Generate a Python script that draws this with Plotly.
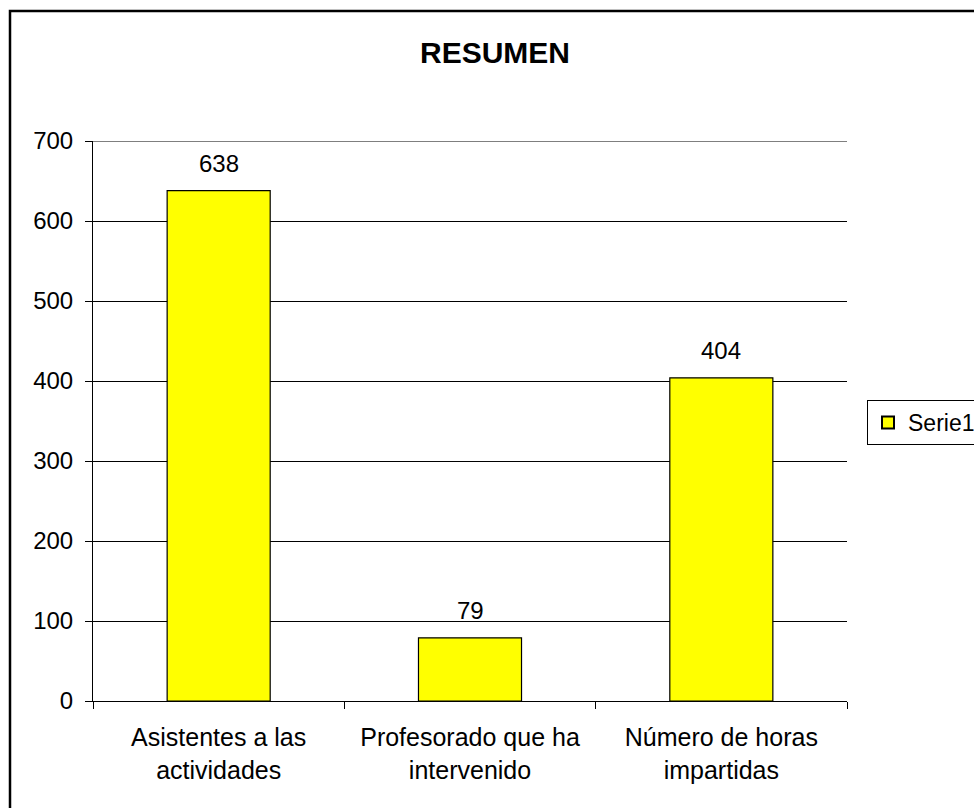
import plotly.graph_objects as go

categories = ["Asistentes a las<br>actividades", "Profesorado que ha<br>intervenido", "Número de horas<br>impartidas"]
values = [638, 79, 404]
series_name = "Serie1"
title_text = "RESUMEN"
y_ticks = [0, 100, 200, 300, 400, 500, 600, 700]

W, H = 974, 808
L, R, T, B = 93, 847, 141, 701
FONT = "Liberation Sans, Arial"

def px_x(p):
    return (p - L) / (R - L)

def px_y(p):
    return (B - p) / (B - T)

fig = go.Figure()
fig.add_trace(go.Bar(
    x=categories, y=values, name=series_name,
    marker=dict(color="#FFFF00", line=dict(color="black", width=1.2)),
    showlegend=True,
))

for c, v in zip(categories, values):
    fig.add_annotation(x=c, y=v, text=str(v), showarrow=False, yanchor="bottom",
                       yshift=12, font=dict(size=24, color="black", family=FONT))

# top gridline at the last tick
fig.add_shape(type="line", xref="paper", yref="y", x0=0, x1=1,
              y0=y_ticks[-1], y1=y_ticks[-1], line=dict(color="black", width=1))

# chart frame
fig.add_shape(type="rect", xref="paper", yref="paper",
              x0=px_x(10), x1=px_x(1010), y0=px_y(840), y1=px_y(11),
              line=dict(color="black", width=2.5), fillcolor="rgba(0,0,0,0)", layer="below")

fig.update_layout(
    width=W, height=H,
    margin=dict(l=L, r=W - R, t=T, b=H - B, pad=0, autoexpand=False),
    paper_bgcolor="white", plot_bgcolor="white",
    font=dict(family=FONT, size=24, color="black"),
    title=dict(text="<b>" + title_text + "</b>", x=495 / W, xanchor="center",
               y=1 - 52 / H, yanchor="middle", font=dict(size=30, color="black")),
    bargap=0.59,
    showlegend=True,
    legend=dict(x=px_x(867), y=px_y(400), xanchor="left", yanchor="top",
                bordercolor="black", borderwidth=1, bgcolor="white",
                font=dict(size=23), itemsizing="constant"),
)
fig.update_xaxes(showline=True, linecolor="black", linewidth=1,
                 ticks="outside", tickson="boundaries", ticklen=7, tickcolor="black",
                 showgrid=False, tickfont=dict(size=25), ticklabelstandoff=14)
fig.update_yaxes(range=[0, 700], tickvals=y_ticks, showline=True, linecolor="black", linewidth=1,
                 ticks="outside", ticklen=7, tickcolor="black",
                 showgrid=True, gridcolor="black", gridwidth=1, zeroline=False,
                 tickfont=dict(size=24), ticklabelstandoff=7)

fig.write_html("out.html",
               config={"displayModeBar": False},
               post_script="document.body.style.margin='0';document.body.style.overflow='hidden';")
